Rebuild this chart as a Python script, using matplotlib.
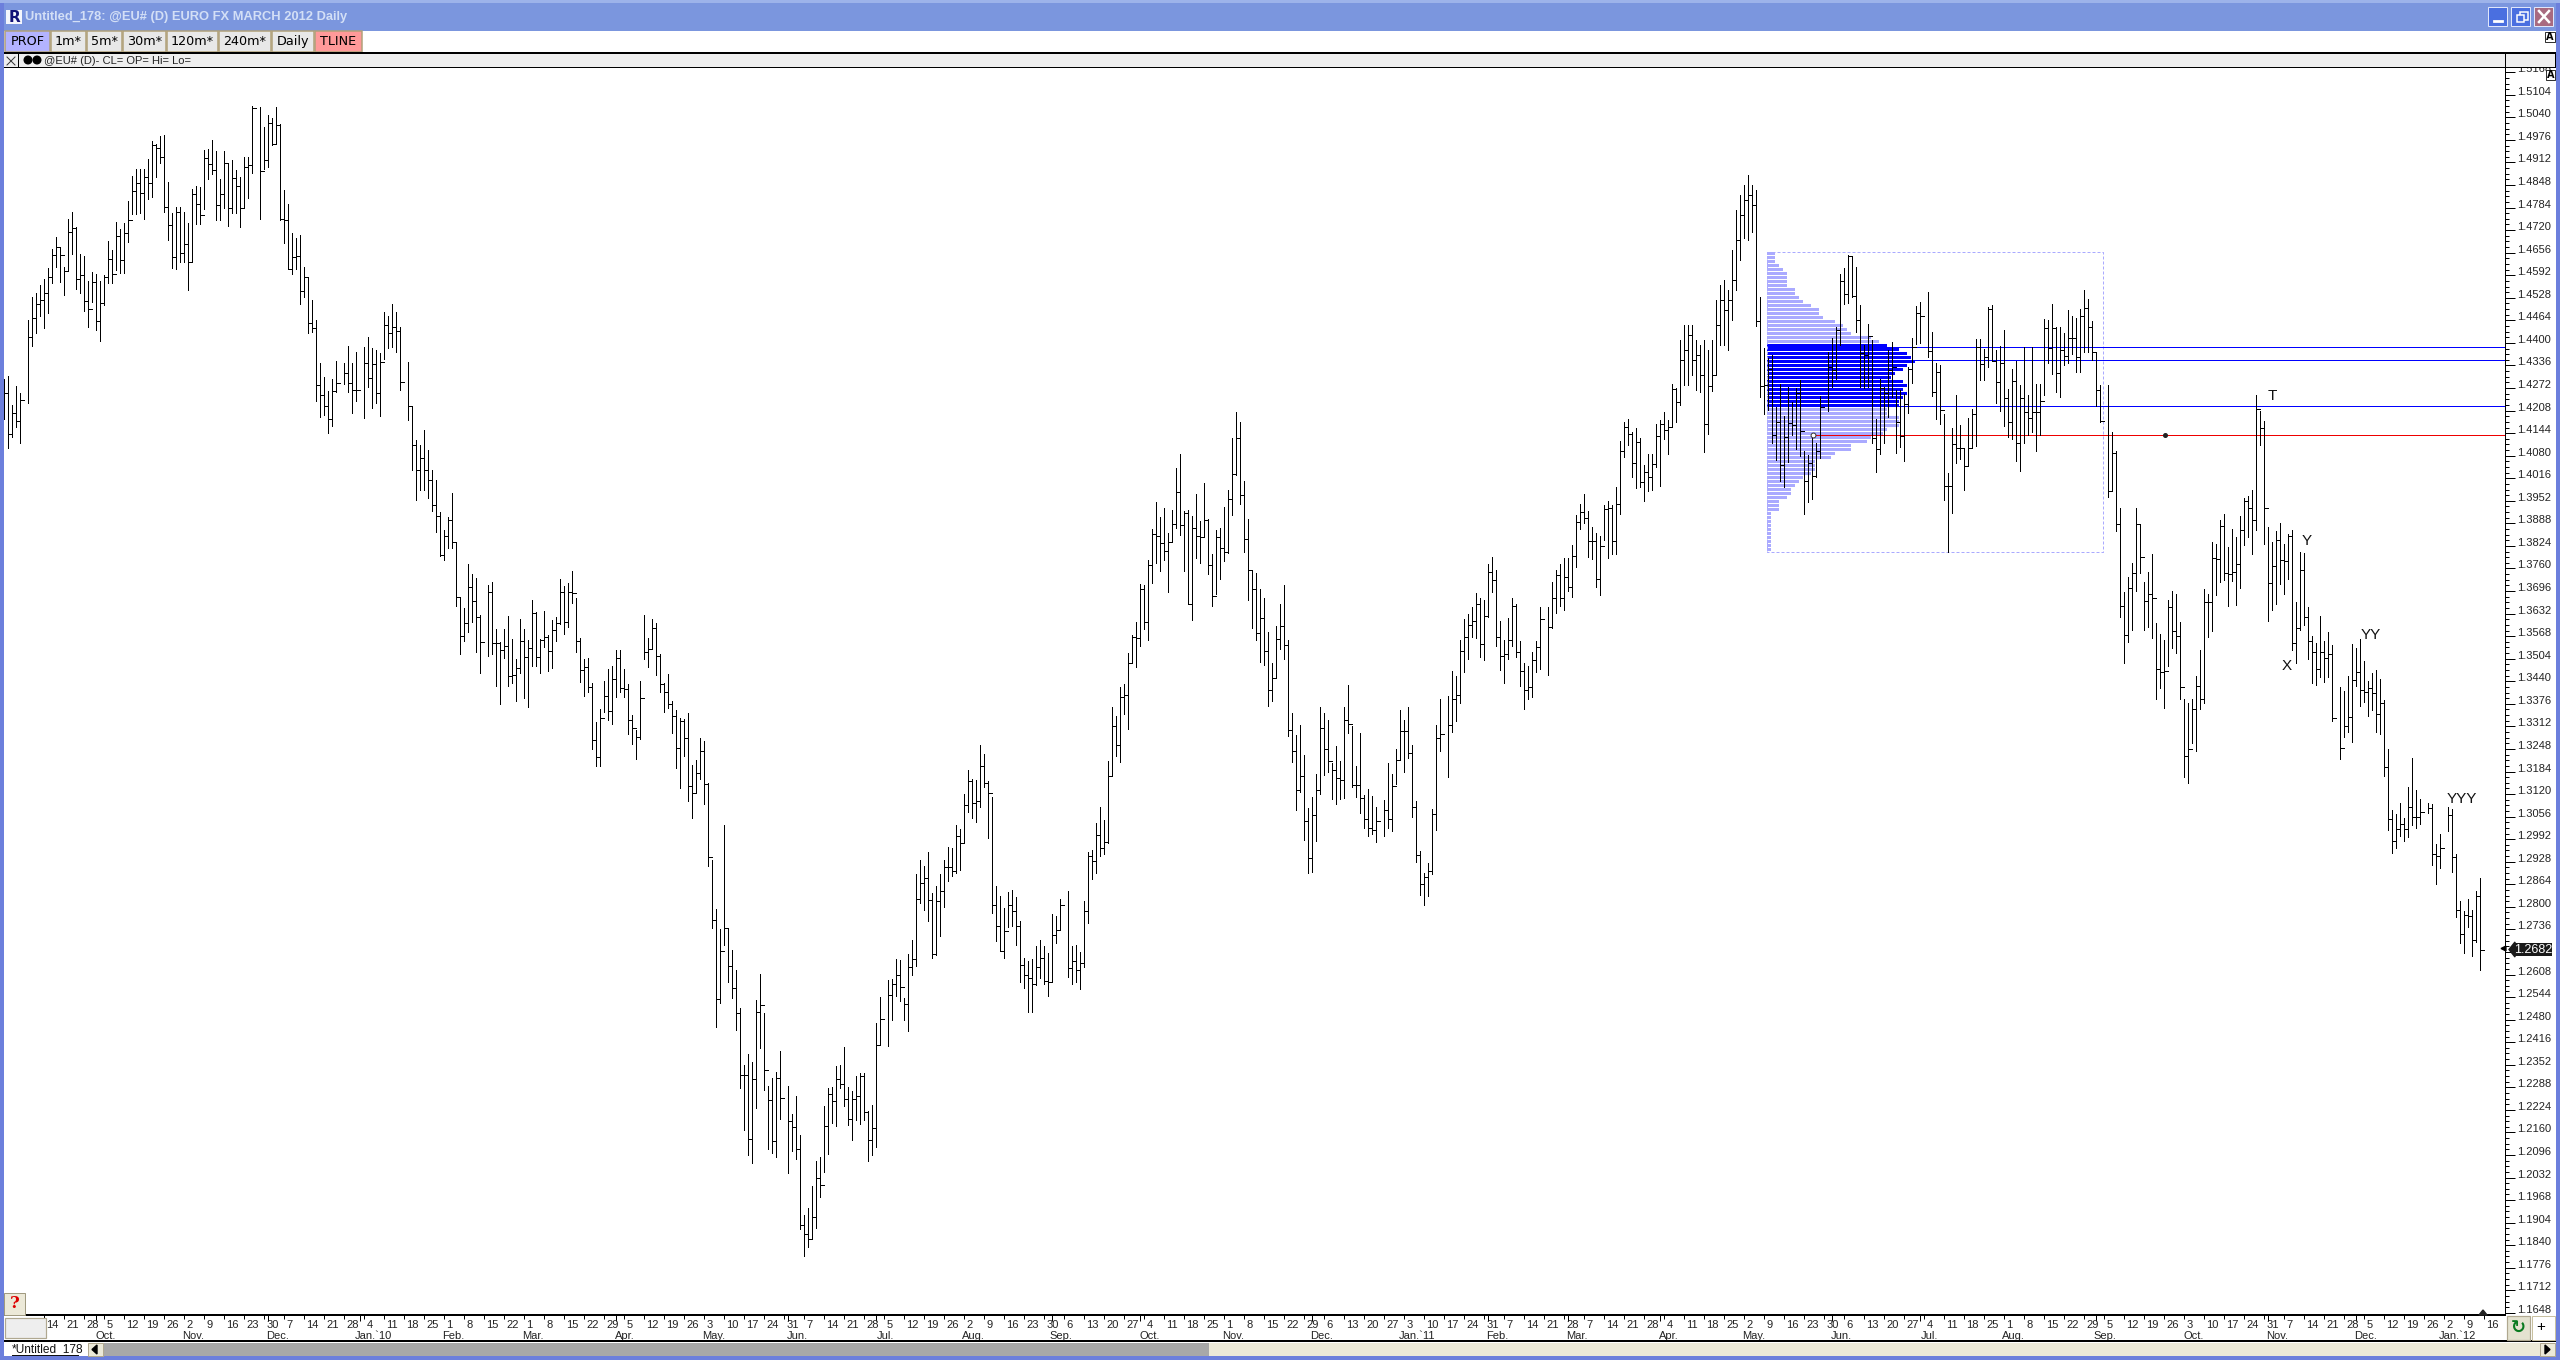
import numpy as np
import pandas as pd
import matplotlib
matplotlib.use('Agg')
import matplotlib.pyplot as plt
from matplotlib.patches import Rectangle, Circle, Polygon

# prices below are in 1/10000. None = no bar that day
high_a = [14297, 14306, 14224, 14278, 14259, None, 14465, 14529, 14541, 14564,
          14581, 14612, 14666, 14700, 14673, 14615, 14752, 14771, 14730, 14651,
          14647, 14576, 14600, 14596, 14576, 14593, 14689, 14664, 14742, 14722,
          14739, 14803, 14874, 14894, 14894, 14893, 14923, 14973, 14965, 14987,
          14990, 14857, 14768, 14786, 14786, 14771, 14741, 14836, 14845, 14843,
          14948, 14949, 14976, 14945, 14864, 14945, 14910, 14919, 14891, 14870,
          14927, 14927, 15071, None, 15069, 15014, 15047, 15037, 15069, 15021,
          14834, 14794, 14712, 14697, 14706, 14615, 14586, 14522, 14465, 14344,
          14304, 14265, 14297, 14349, None, 14344, 14391, 14344, 14374, None,
          14388, 14418, 14385, 14380, 14372, 14489, 14475, 14511, 14489, 14446,
          None, 14345, 14221, 14125, 14110, 14153, 14096]
low_a = [14183, 14103, 14134, 14162, 14117, None, 14230, 14392, 14429, 14476,
         14441, 14486, 14569, 14615, 14574, 14537, 14604, 14653, 14554, 14541,
         14490, 14446, 14517, 14437, 14406, 14508, 14571, 14571, 14607, 14598,
         14599, 14686, 14765, 14765, 14770, 14753, 14808, 14813, 14870, 14910,
         14771, 14693, 14612, 14609, 14629, 14629, 14551, 14630, 14737, 14738,
         14779, 14864, 14879, 14748, 14748, 14782, 14733, 14770, 14770, 14728,
         14782, 14812, 14881, None, 14753, 14893, 14898, 14962, 14964, 14749,
         14683, 14609, 14595, 14610, 14511, 14529, 14429, 14432, 14234, 14191,
         14196, 14145, 14164, 14262, None, 14283, 14262, 14202, 14236, None,
         14188, 14274, 14214, 14229, 14194, 14353, 14385, 14388, 14375, 14266,
         None, 14180, 14040, 13955, 13983, 13983, 13960]
close_a = [14257, 14141, 14200, 14178, 14238, None, 14416, 14470, 14510, 14522,
           14541, 14586, 14650, 14673, 14650, 14604, 14716, 14727, 14581, 14593,
           14519, 14495, 14572, 14461, 14514, 14586, 14637, 14595, 14703, 14634,
           14713, 14748, 14830, 14853, 14825, 14870, 14853, 14962, 14952, 14927,
           14786, 14734, 14645, 14771, 14655, 14681, 14629, 14823, 14793, 14763,
           14924, 14907, 14891, 14791, 14822, 14910, 14783, 14867, 14845, 14782,
           14898, 14904, 15066, None, 14887, 14919, 15023, 14964, 15019, 14751,
           14748, 14609, 14644, 14646, 14547, 14586, 14456, 14443, 14281, 14251,
           14221, 14183, 14265, 14285, None, 14314, 14285, 14266, 14266, None,
           14342, 14301, 14340, 14258, 14347, 14451, 14427, 14446, 14435, 14288,
           None, 14222, 14110, 14040, 14074, 14040, 14011]

high_b = [14040, 14011, 13920, 13869, 13906, 13975, 13835, 13678, 13648, 13773,
          13744, 13734, 13628, None, 13714, 13722, 13588, 13552, 13588, 13626,
          13560, 13504, 13618, 13588, 13558, 13671, 13636, 13560, 13640, 13570,
          13615, 13623, 13730, 13711, 13720, 13753, 13676, 13563, 13504, 13506,
          13435, 13325, 13361, 13441, 13474, 13484, 13530, 13530, 13476, 13432,
          13345, 13303, 13441, 13629, 13564, 13618, 13606, 13517, 13435, 13462,
          13385, 13359, 13336, 13334, 13351, 13203, 13218, 13280, 13271, 13152,
          12934, 12794, 12738, 13033, 12739, 12679, 12622]
low_b = [13922, 13864, 13795, 13783, 13818, 13818, 13655, 13517, 13553, 13580,
         13608, 13524, 13463, None, 13511, 13517, 13428, 13375, 13505, 13428,
         13435, 13383, 13463, 13392, 13367, 13484, 13482, 13463, 13538, 13469,
         13477, 13553, 13602, 13573, 13593, 13661, 13522, 13437, 13398, 13410,
         13248, 13200, 13201, 13352, 13329, 13319, 13395, 13411, 13395, 13290,
         13261, 13219, 13276, 13502, 13481, 13532, 13457, 13410, 13352, 13363,
         13292, 13193, 13136, 13228, 13099, 13051, 13122, 13163, 13091, 12915,
         12739, 12460, 12527, 12692, 12587, 12540, 12450]
close_b = [13940, 13909, 13798, 13852, 13897, 13835, 13678, 13568, 13606, 13707,
           13667, 13621, 13551, None, 13692, 13549, 13549, 13529, 13540, 13455,
           13458, 13478, 13554, 13509, 13534, 13634, 13509, 13558, 13566, 13525,
           13585, 13604, 13693, 13608, 13694, 13690, 13554, 13472, 13481, 13423,
           13273, 13226, 13336, 13399, 13355, 13446, 13506, 13421, 13418, 13329,
           13308, 13283, 13393, 13523, 13532, 13591, 13512, 13433, 13409, 13376,
           13342, 13252, 13326, 13279, 13143, 13122, 13180, 13242, 13149, 12942,
           12763, 12539, 12675, 12739, 12632, 12571, 12499]

high_c = [12512, 12352, 12383, 12360, 12536, 12610, 12498, 12292, 12314, 12331,
          12391, None, 12292, 12212, 12264, 12153, 11926, 11946, 12008, 12079,
          12090, 12235, 12286, 12289, 12349, 12352, 12403, 12289, 12278, 12320,
          12329, 12329, 12220, 12238, 12471]
low_c = [12287, 12167, 12097, 12074, 12230, 12399, 12279, 12114, 12103, 12089,
         12199, None, 12046, 12108, 12086, 11887, 11808, 11836, 11857, 11889,
         11978, 12049, 12100, 12188, 12177, 12287, 12236, 12181, 12139, 12194,
         12185, 12194, 12080, 12097, 12120]
close_c = [12322, 12322, 12141, 12311, 12501, 12521, 12336, 12252, 12135, 12314,
           12257, None, 12192, 12175, 12112, 11898, 11871, 11857, 11919, 12030,
           12010, 12177, 12268, 12248, 12311, 12297, 12254, 12197, 12254, 12263,
           12319, 12217, 12138, 12172, 12408]

high_d = [12545, None, 12593, 12595, 12651, 12650, 12542, 12666, 12705, 12892,
          12932, 12916, 12955, 12840, 12858, 12892, 12933, 12971, 12967, 13032,
          13020, 13119, 13188, 13164, 13160, 13259, 13234, 13157, 13112, 12858,
          12830, 12796, 12841, 12847, 12827, 12759, 12655, 12646, 12651, 12688,
          12705, 12690, 12669, 12781, 12774, 12821, None, 12845, 12688, 12691,
          12671, 12816, 12957, 12961, 13039, 13082, 13046, 13214, 13367, 13341,
          13423, 13433, 13520, 13570, 13608, 13715, 13714, 13784, 13871, 13950,
          13906, 13932, 13860, 13926, 14045, 14085, 13923, 13925, 13910, 13971,
          13894, 14002, 13901, 13802, 13869, 13874, 13934, 13982, 14131, 14204,
          14176, 14008, 13900, 13752, 13746, 13702, 13677, 13580, 13492, 13596,
          13660, 13714, 13556, 13350, 13288]
low_d = [12410, None, 12405, 12479, 12546, 12533, 12479, 12448, 12606, 12633,
         12810, 12792, 12759, 12656, 12662, 12716, 12799, 12873, 12887, 12897,
         12905, 12980, 13070, 13052, 13042, 13082, 13139, 12996, 12783, 12703,
         12675, 12656, 12744, 12745, 12692, 12588, 12570, 12502, 12502, 12577,
         12599, 12582, 12548, 12586, 12698, 12734, None, 12602, 12582, 12588,
         12568, 12628, 12753, 12880, 12897, 12943, 12950, 12982, 13170, 13228,
         13212, 13348, 13304, 13491, 13481, 13539, 13587, 13558, 13719, 13777,
         13752, 13784, 13694, 13834, 13874, 13856, 13752, 13660, 13615, 13791,
         13777, 13853, 13744, 13655, 13688, 13730, 13782, 13804, 13912, 14024,
         13944, 13808, 13671, 13592, 13558, 13495, 13487, 13371, 13385, 13452,
         13532, 13504, 13286, 13210, 13075]
close_d = [12481, None, 12550, 12580, 12606, 12574, 12525, 12628, 12653, 12821,
           12867, 12883, 12819, 12667, 12818, 12844, 12912, 12912, 12903, 13000,
           12980, 13090, 13157, 13096, 13099, 13199, 13152, 13122, 12804, 12747,
           12676, 12732, 12804, 12788, 12747, 12634, 12606, 12597, 12580, 12628,
           12656, 12590, 12586, 12721, 12735, 12805, None, 12626, 12645, 12622,
           12640, 12788, 12944, 12930, 13004, 12966, 12983, 13171, 13312, 13259,
           13395, 13400, 13491, 13567, 13562, 13701, 13608, 13769, 13858, 13853,
           13831, 13809, 13834, 13886, 13977, 13882, 13917, 13660, 13876, 13853,
           13849, 13898, 13769, 13681, 13849, 13817, 13808, 13956, 14027, 14129,
           13968, 13845, 13755, 13701, 13576, 13619, 13525, 13414, 13449, 13559,
           13598, 13542, 13302, 13242, 13132]

high_e = [13316, 13230, 13081, 13111, 13176, 13367, 13350, 13331, 13208, 13256,
          13214, 13366, 13429, 13313, 13200, 13294, 13118, 13134, 13115, 13084,
          None, 13103, 13209, 13176, 13249, 13359, 13331, 13367, 13259, 13101,
          12958, 12896, 12925, 13078, 13316, 13390, None, 13398, 13469, 13456,
          13557, 13616, 13631, 13651, 13691, 13677, 13670, 13773, 13793, 13756,
          13611, 13557, 13620, 13677, 13659, 13554, 13491, 13484, 13523, 13554,
          13651, None, 13650, 13722, 13756, 13773, 13790, 13790, 13827, 13911,
          13942, 13972, 13924, 13877, 13861, 13852, 13940, 13952, 13939, 13991,
          14121, 14175, 14185, 14148, 14159, 14131, 14054, 14085, 14085, 14170,
          14182, 14204, 14182, 14283, 14273, 14408, 14451, 14451, 14451, 14408,
          14394, 14408, 14380, 14408, 14522, 14564, 14579, 14550, 14664, 14777,
          14820, 14848, 14876, 14848, 14834, 14530, 14386]
low_e = [13127, 12991, 12896, 12898, 12986, 13120, 13173, 13184, 13106, 13091,
         13107, 13110, 13292, 13139, 13113, 13066, 13025, 13002, 13008, 12985,
         None, 13002, 13025, 13014, 13149, 13218, 13184, 13221, 13056, 12926,
         12835, 12804, 12832, 12892, 13019, 13243, None, 13169, 13297, 13326,
         13377, 13467, 13502, 13567, 13564, 13510, 13499, 13622, 13694, 13539,
         13473, 13436, 13503, 13539, 13508, 13427, 13360, 13390, 13394, 13466,
         13476, None, 13457, 13592, 13634, 13655, 13643, 13695, 13678, 13764,
         13872, 13888, 13793, 13788, 13708, 13686, 13840, 13790, 13802, 13802,
         13916, 14075, 14111, 14020, 13989, 13990, 13952, 13981, 13984, 14049,
         13995, 14126, 14086, 14161, 14177, 14224, 14281, 14281, 14309, 14267,
         14261, 14091, 14142, 14264, 14309, 14394, 14394, 14380, 14465, 14550,
         14635, 14698, 14692, 14715, 14448, 14247, 14198]
close_e = [13170, 13045, 12938, 13060, 13131, 13307, 13248, 13213, 13188, 13165,
           13160, 13330, 13318, 13145, 13145, 13108, 13048, 13023, 13017, 13045,
           None, 13074, 13048, 13144, 13218, 13298, 13298, 13236, 13083, 12947,
           12865, 12884, 12901, 13063, 13278, 13290, None, 13315, 13389, 13401,
           13525, 13565, 13599, 13610, 13659, 13545, 13625, 13750, 13727, 13565,
           13513, 13516, 13556, 13653, 13522, 13468, 13415, 13424, 13500, 13537,
           13616, None, 13593, 13677, 13741, 13677, 13735, 13707, 13795, 13892,
           13920, 13902, 13838, 13838, 13729, 13823, 13928, 13933, 13838, 13942,
           14093, 14161, 14141, 14059, 14118, 14005, 14033, 14021, 14056, 14135,
           14169, 14152, 14161, 14269, 14231, 14352, 14380, 14423, 14352, 14366,
           14309, 14170, 14278, 14309, 14451, 14522, 14494, 14522, 14579, 14692,
           14763, 14806, 14820, 14791, 14462, 14278, 14281]

high_f = [14356, 14365, 14219, 14283, 14192, 14275, 14233, 14271, 14294, 14093,
          14081, 14138, 14115, 14250, None, 14375, 14413, 14446, 14595, 14613,
          14649, 14646, 14615, 14507, 14394, 14455, 14408, 14183, 14299, 14275,
          14379, 14403, 14266, 14266, 14256, 14332, 14413, 14504, 14516, None,
          14544, 14431, 14342, 14336, 14197, 14032, 14160, 14252, 14168, 14103,
          14188, 14212, 14411, 14411, 14382, 14501, 14509, 14379, 14392, 14436,
          14268, 14327, 14350, 14280, 14389, 14252, 14389, 14283, 14283, 14469,
          14465, 14510, 14445, 14444, 14427, 14493, 14476, 14470, 14495, 14550,
          14526, 14462, 14373, 14280, None, 14280, 14147, 14092]
low_f = [14209, 14115, 14067, 14009, 13991, 14063, 14138, 14100, 14079, 13914,
         13949, 13958, 14020, 14074, None, 14206, 14275, 14299, 14394, 14510,
         14514, 14531, 14430, 14275, 14273, 14275, 14115, 14034, 14086, 14115,
         14190, 14247, 14088, 14105, 14065, 14200, 14287, 14398, 14400, None,
         14361, 14250, 14185, 14170, 13953, 13807, 13918, 14060, 14071, 13983,
         14052, 14105, 14108, 14295, 14295, 14332, 14348, 14230, 14206, 14165,
         14133, 14126, 14065, 14037, 14115, 14139, 14148, 14094, 14140, 14251,
         14343, 14313, 14260, 14247, 14337, 14343, 14369, 14318, 14318, 14375,
         14375, 14351, 14221, 14176, None, 13963, 13984, 13867]
close_f = [14325, 14138, 14175, 14055, 14134, 14173, 14168, 14259, 14151, 14007,
           14058, 14023, 14092, 14219, None, 14332, 14323, 14436, 14577, 14540,
           14646, 14533, 14464, 14370, 14367, 14421, 14129, 14098, 14273, 14259,
           14323, 14332, 14177, 14135, 14228, 14327, 14389, 14484, 14476, None,
           14376, 14261, 14317, 14211, 13993, 13995, 14112, 14103, 14103, 14052,
           14103, 14198, 14388, 14339, 14359, 14495, 14348, 14288, 14344, 14245,
           14177, 14293, 14117, 14245, 14204, 14188, 14203, 14203, 14234, 14441,
           14385, 14443, 14316, 14379, 14363, 14415, 14413, 14360, 14476, 14498,
           14444, 14373, 14266, 14179, None, 13981, 14087, 13885]

high_g = [13931, 13692, 13735, 13777, 13933, 13883, 13722, 13749, 13800, 13604,
          13574, 13557, 13672, 13695, 13687, 13607, 13389, 13377, 13391, 13455,
          13529, 13702, 13687, 13835, 13829, 13897, 13916, 13821, 13871, 13848,
          13909, 13959, 13967, 13983, 14252, 14207, 14179, 13878, 13835, 13866,
          13889, 13829, 13858, 13869, 13665, 13806, 13804, 13651, 13568, 13550,
          13625, 13554, 13579, 13543, None, 13424, 13412, 13455, 13546, 13534,
          13560, 13497, 13441, 13463, 13472, 13446, 13387, 13248, 13074, 13063,
          13094, 13052, 13140, 13222, 13131, 13106, None, 13094, 13091, 12978,
          13006, None, 13083, 13077, 12950, 12816, 12788, 12821, 12791, 12845,
          12881]
low_g = [13621, 13493, 13551, 13586, 13697, 13748, 13586, 13595, 13564, 13390,
         13422, 13365, 13484, 13535, 13521, 13390, 13169, 13152, 13266, 13243,
         13362, 13379, 13566, 13583, 13686, 13722, 13727, 13654, 13725, 13657,
         13705, 13826, 13850, 13802, 13869, 14111, 13830, 13612, 13642, 13659,
         13716, 13688, 13730, 13529, 13493, 13586, 13600, 13504, 13436, 13430,
         13453, 13439, 13453, 13328, None, 13220, 13283, 13295, 13268, 13427,
         13370, 13382, 13342, 13359, 13297, 13291, 13172, 13019, 12953, 12968,
         13002, 12987, 12999, 13033, 13023, 13035, None, 13067, 12918, 12865,
         12911, None, 13016, 12899, 12772, 12698, 12670, 12743, 12661, 12700,
         12621]
close_g = [13655, 13570, 13706, 13746, 13885, 13794, 13669, 13689, 13675, 13474,
           13466, 13468, 13650, 13582, 13568, 13425, 13227, 13247, 13360, 13428,
           13391, 13664, 13664, 13789, 13786, 13880, 13746, 13744, 13749, 13774,
           13868, 13951, 13931, 13899, 14213, 14159, 13932, 13718, 13766, 13840,
           13783, 13781, 13851, 13550, 13592, 13757, 13622, 13553, 13522, 13474,
           13522, 13505, 13516, 13336, None, 13250, 13312, 13340, 13445, 13466,
           13414, 13411, 13420, 13406, 13346, 13379, 13196, 13048, 12986, 13022,
           13034, 13022, 13082, 13054, 13054, 13068, None, 13080, 12949, 12943,
           12966, None, 13061, 12941, 12790, 12724, 12776, 12774, 12707, 12830,
           12679]

# volume profile, bars per price row, top row first
profile_counts = [2, 2, 2, 3, 4, 5, 5, 5, 5, 7, 7, 8, 9, 11, 13, 13, 14, 17, 19, 20, 21, 26, 28,
                  30, 33, 35, 36, 37, 35, 34, 32, 31, 34, 35, 34, 35, 34, 33, 33,
                  30, 30, 33, 33, 33, 30, 29, 26, 25, 21, 21, 17, 16, 12, 12, 12, 11,
                  9, 8, 7, 6, 6, 5, 3, 3, 3, 1, 1, 1, 1, 1, 1, 1, 1, 1, 1]
profile_top = 1.4654
profile_step = 0.001135
value_area = (23, 39)
blue_levels = [1.4389, 1.4351, 1.4220]
red_level = 1.4138
last_price = 1.2682

marks = ['T', 'Y', 'YY', 'X', 'YYY']
mark_bar = [567, 575.7, 591.7, 570.7, 614.4]
mark_price = [1.4250, 1.3838, 1.3571, 1.3483, 1.3106]

buttons = ['PROF', '1m*', '5m*', '30m*', '120m*', '240m*', 'Daily', 'TLINE']
button_edges = [5, 51, 87, 123, 167, 219, 272, 315, 363]

high = np.array(high_a + high_b + high_c + high_d + high_e + high_f + high_g, dtype=float) / 1e4
low = np.array(low_a + low_b + low_c + low_d + low_e + low_f + low_g, dtype=float) / 1e4
close = np.array(close_a + close_b + close_c + close_d + close_e + close_f + close_g, dtype=float) / 1e4
bars = np.arange(len(high))

W, H = 2560, 1360
FIRST_DAY = '2009-08-31'
narrow = ['Liberation Sans Narrow', 'Liberation Sans', 'DejaVu Sans']
px = 72 / 100  # one pixel in points

fig = plt.figure(figsize=(W / 100, H / 100), dpi=100, facecolor='white')

# chart frame, px: left 4, right 2505, top 68, bottom 1315
ax = fig.add_axes([4 / W, (H - 1315) / H, 2501 / W, 1247 / H])
ax.set_xlim((4 - 4.33) / 4, (2505 - 4.33) / 4)
ax.set_ylim(1.1642, 1.5180)
for s in ['top', 'left']:
    ax.spines[s].set_visible(False)
ax.spines['right'].set_linewidth(px)
ax.spines['bottom'].set_linewidth(2 * px)

# volume profile behind the price bars
profile_y = profile_top - profile_step * np.arange(len(profile_counts))
profile_colors = ['#0000ff' if value_area[0] <= k < value_area[1] else '#aaaaff'
                  for k in range(len(profile_counts))]
ax.barh(profile_y, profile_counts, left=440.7, height=profile_step * 0.8,
        color=profile_colors, linewidth=0, zorder=1)
ax.plot([440.7, 524.7, 524.7, 440.7, 440.7], [1.4658, 1.4658, 1.3807, 1.3807, 1.4658],
        color='#aaaaff', lw=px, ls=(0, (3, 2)), zorder=1)

ax.hlines(blue_levels, 441, ax.get_xlim()[1], colors='#0000ff', lw=px, antialiased=False, zorder=2)
ax.hlines(red_level, 452.7, ax.get_xlim()[1], colors='#ee0000', lw=px, antialiased=False, zorder=2)
ax.plot([452.2], [red_level], 'o', mfc='white', mec='#333333', ms=3.5, mew=0.7, zorder=4)
ax.plot([540.2], [red_level], 'o', color='#222222', ms=2.6, zorder=4)

ax.vlines(bars, low, high, colors='black', lw=px, antialiased=False, zorder=3)
ax.hlines(close, bars, bars + 0.85, colors='black', lw=px, antialiased=False, zorder=3)

for m, mb, mp in zip(marks, mark_bar, mark_price):
    ax.text(mb, mp, m, fontsize=11, family='Liberation Sans', ha='center', va='center', color='#111111', zorder=5)

# price axis
ax.yaxis.tick_right()
major = np.arange(1.1648, 1.5169, 0.0064)
ax.set_yticks(major)
ax.set_yticklabels(['%.4f' % v for v in major], family=narrow, fontsize=8, color='#222222')
for lab in ax.get_yticklabels():
    lab.set_va('baseline')
ax.set_yticks(np.arange(1.1648, 1.5169, 0.0016), minor=True)
ax.tick_params(axis='y', which='major', length=10 * px, width=px, pad=1.5)
ax.tick_params(axis='y', which='minor', length=3.5 * px, width=px)

# date axis, one slot per weekday
mondays = pd.date_range('2009-09-14', '2012-01-16', freq='7D')
monday_slots = np.busday_count(FIRST_DAY, mondays.strftime('%Y-%m-%d').tolist())
months = pd.date_range('2009-10-01', '2012-01-01', freq='MS')
month_slots = np.busday_count(FIRST_DAY, months.strftime('%Y-%m-%d').tolist())
ax.set_xticks(monday_slots)
ax.set_xticklabels([])
ax.set_xticks(month_slots, minor=True)
ax.tick_params(axis='x', which='major', length=4 * px, width=px)
ax.tick_params(axis='x', which='minor', length=6 * px, width=px)
for d, slot in zip(mondays, monday_slots):
    ax.annotate(str(d.day), (slot, 0), xycoords=('data', 'axes fraction'), xytext=(2, -13),
                textcoords='offset pixels', family=narrow, fontsize=8, color='#222222', ha='left', va='baseline')
for d, slot in zip(months, month_slots):
    name = d.strftime('%b') + '.'
    off = 9
    if d.month == 1:
        name = "Jan.`" + d.strftime('%y')
        off = 13
    ax.annotate(name, (slot, 0), xycoords=('data', 'axes fraction'), xytext=(off, -24),
                textcoords='offset pixels', family=narrow, fontsize=8, color='#222222', ha='center', va='baseline')

# last price flag on the axis
ax.plot([ax.get_xlim()[1] - 0.6], [last_price], marker='<', color='black', ms=3.5, clip_on=False, zorder=6)

# window chrome on top, in pixels
ui = fig.add_axes([0, 0, 1, 1], zorder=10)
ui.set_xlim(0, W)
ui.set_ylim(H, 0)
ui.axis('off')
ui.patch.set_alpha(0)


def box(x0, y0, x1, y1, fc, ec='none', lw=0.0, z=1):
    ui.add_patch(Rectangle((x0, y0), x1 - x0, y1 - y0, facecolor=fc, edgecolor=ec, linewidth=lw * px, zorder=z))


# title bar and borders
box(0, 0, W, 31, '#7b96de')
box(0, 0, W, 3, '#9db3ea', z=2)
box(0, 0, 4, H, '#6c7fdc')
box(2556, 0, W, H, '#6c7fdc')
box(0, 1356, W, H, '#6c7fdc')
box(4, 31, 2556, 52, 'white')
ui.text(25, 17, 'Untitled_178: @EU# (D) EURO FX MARCH 2012 Daily', family=['Liberation Sans', 'DejaVu Sans'],
        fontweight='bold', fontsize=9.3, color='#d3dff6', va='center', ha='left', zorder=3)
box(6, 10, 22, 24, '#f4f6fc', z=2)
ui.text(14, 17.5, 'R', fontweight='bold', fontsize=11, color='#111177', ha='center', va='center', zorder=3)
for xb, col in zip([2488, 2511, 2534], ['#4a6fe0', '#4a6fe0', '#a86a80']):
    box(xb, 7, xb + 19, 26, col, '#dfe6fb', 1, z=2)
ui.plot([2494, 2502], [21, 21], color='white', lw=2)
box(2520, 12, 2528, 20, 'none', 'white', 1.5, z=3)
box(2517, 15, 2524, 22, '#4a6fe0', 'white', 1.5, z=4)
ui.plot([2539, 2549], [11, 22], color='white', lw=2.5 * px, zorder=3)
ui.plot([2549, 2539], [11, 22], color='white', lw=2.5 * px, zorder=3)

# toolbar buttons
for k, name in enumerate(buttons):
    fc = '#b3b3ff' if name == 'PROF' else '#ff9999' if name == 'TLINE' else '#e8e8e8'
    box(button_edges[k], 31, button_edges[k + 1] - 1, 52, fc, '#b0a078', 1.5, z=2)
    ui.text((button_edges[k] + button_edges[k + 1] - 1) / 2, 41.5, name, family='DejaVu Sans', fontsize=9.2,
            color='black', ha='center', va='center', zorder=3)

# header row above the chart
box(4, 52, 2556, 54, 'black', z=2)
box(4, 54, 2556, 67, '#eeeeee', z=2)
box(4, 67, 2556, 68, 'black', z=2)
box(2505, 54, 2506, 68, 'black', z=3)
box(2555, 54, 2556, 68, 'black', z=3)
box(18, 54, 19, 68, 'black', z=3)
ui.plot([7, 15], [57, 65], color='#333333', lw=0.7, zorder=3)
ui.plot([15, 7], [57, 65], color='#333333', lw=0.7, zorder=3)
ui.add_patch(Circle((28, 60), 3.8, color='black', zorder=3))
ui.add_patch(Circle((37, 60), 3.8, color='black', zorder=3))
ui.text(44, 60.5, '@EU# (D)- CL= OP= Hi= Lo=', family=narrow[1:], fontsize=8, color='#222222', va='center', zorder=3)
for ya, xa in [(31, 2545), (69, 2546)]:
    box(xa, ya + 1, 2555, ya + 11, 'white', 'black', 0.8, z=3)
    ui.text(xa + 5, ya + 6.5, 'A', fontsize=7, fontweight='bold', ha='center', va='center', zorder=4)

# current price tag
box(2515, 943, 2552, 956, '#1a1a1a', z=3)
ui.add_patch(Polygon([[2515, 942], [2515, 957], [2509, 949.5]], color='#1a1a1a', zorder=3))
ui.text(2533.5, 949.7, '1.2682', family=narrow, fontsize=9, color='white', ha='center', va='center', zorder=4)
ui.add_patch(Polygon([[2479, 1315], [2487, 1315], [2483, 1310]], color='#222222', zorder=3))

# bottom bar
box(4, 1340, 2556, 1342, 'black', z=2)
box(4, 1342, 2556, 1356, 'white', z=2)
box(4, 1293, 25, 1315, '#ece9d8', '#a09a80', 1, z=2)
ui.text(14.5, 1304, '?', fontsize=12, color='#dd0000', fontweight='bold', family='DejaVu Serif', ha='center', va='center', zorder=3)
box(5, 1318, 46, 1338, '#eeeeee', '#b0a890', 1.2, z=2)
ui.text(12, 1349, '*Untitled_178', family=narrow, fontsize=8.6, color='#111111', va='center', zorder=3)
box(12, 1354.5, 79, 1355.5, '#111111', z=3)
box(88, 1343, 103, 1356, '#ece9d8', '#b0a890', 1, z=3)
ui.add_patch(Polygon([[92, 1349.5], [97, 1345], [97, 1354]], color='black', zorder=4))
box(103, 1343, 2540, 1356, '#ece9d8', z=2)
box(104, 1343, 1209, 1356, '#a8a8a8', z=3)
box(2540, 1343, 2555, 1356, '#ece9d8', '#b0a890', 1, z=3)
ui.add_patch(Polygon([[2550, 1349.5], [2545, 1345], [2545, 1354]], color='black', zorder=4))
box(2507, 1316, 2530, 1340, '#e4e2d0', '#b0a890', 1.2, z=3)
ui.text(2518.5, 1328, '\u21bb', family='DejaVu Sans', fontsize=13, fontweight='bold', color='#0a7a20', ha='center', va='center', zorder=4)
box(2532, 1316, 2555, 1340, 'white', '#c8c0a0', 1, z=3)
ui.text(2541, 1327, '+', family='Liberation Sans', fontsize=11, ha='center', va='center', zorder=4)

fig.savefig('out.png', dpi=100, facecolor='white')
